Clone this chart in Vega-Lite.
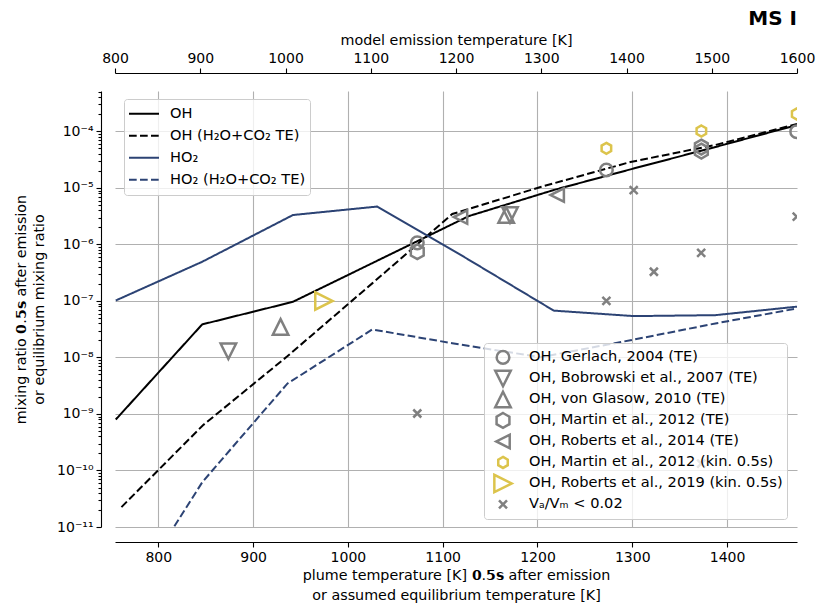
{
  "$schema": "https://vega.github.io/schema/vega-lite/v6.json",
  "width": 682,
  "height": 436,
  "autosize": {"type": "none"},
  "padding": {"left": 115, "top": 91, "right": 21, "bottom": 81},
  "background": "white",
  "title": {"text": "MS I", "anchor": "end", "frame": "group", "fontSize": 20, "fontWeight": "bold", "font": "DejaVu Sans", "color": "black", "offset": 4},
  "datasets": {
    "lines": [
      {"series": "OH", "T": 755.1, "v": 7.98e-10},
      {"series": "OH", "T": 846.3, "v": 3.85e-8},
      {"series": "OH", "T": 942.0, "v": 9.66e-8},
      {"series": "OH", "T": 1031.0, "v": 5.16e-7},
      {"series": "OH", "T": 1127.6, "v": 3.18e-6},
      {"series": "OH", "T": 1217.2, "v": 9.2e-6},
      {"series": "OH", "T": 1301.5, "v": 2.21e-5},
      {"series": "OH", "T": 1387.7, "v": 5.31e-5},
      {"series": "OH", "T": 1473.8, "v": 1.30e-4},
      {"series": "OH (H₂O+CO₂ TE)", "T": 761.1, "v": 2.25e-11},
      {"series": "OH (H₂O+CO₂ TE)", "T": 847.1, "v": 6.32e-10},
      {"series": "OH (H₂O+CO₂ TE)", "T": 936.1, "v": 1.05e-8},
      {"series": "OH (H₂O+CO₂ TE)", "T": 1026.0, "v": 2.07e-7},
      {"series": "OH (H₂O+CO₂ TE)", "T": 1110.1, "v": 3.46e-6},
      {"series": "OH (H₂O+CO₂ TE)", "T": 1203.2, "v": 1.04e-5},
      {"series": "OH (H₂O+CO₂ TE)", "T": 1298.1, "v": 2.88e-5},
      {"series": "OH (H₂O+CO₂ TE)", "T": 1387.7, "v": 5.77e-5},
      {"series": "OH (H₂O+CO₂ TE)", "T": 1473.8, "v": 1.36e-4},
      {"series": "HO₂", "T": 755.1, "v": 1.02e-7},
      {"series": "HO₂", "T": 846.3, "v": 4.94e-7},
      {"series": "HO₂", "T": 942.0, "v": 3.32e-6},
      {"series": "HO₂", "T": 1031.0, "v": 4.69e-6},
      {"series": "HO₂", "T": 1124.1, "v": 5.81e-7},
      {"series": "HO₂", "T": 1217.2, "v": 6.75e-8},
      {"series": "HO₂", "T": 1301.5, "v": 5.40e-8},
      {"series": "HO₂", "T": 1387.7, "v": 5.61e-8},
      {"series": "HO₂", "T": 1473.8, "v": 7.94e-8},
      {"series": "HO₂ (H₂O+CO₂ TE)", "T": 761.1, "v": 3.4e-13},
      {"series": "HO₂ (H₂O+CO₂ TE)", "T": 846.5, "v": 6.25e-11},
      {"series": "HO₂ (H₂O+CO₂ TE)", "T": 936.1, "v": 3.44e-9},
      {"series": "HO₂ (H₂O+CO₂ TE)", "T": 1025.7, "v": 3.13e-8},
      {"series": "HO₂ (H₂O+CO₂ TE)", "T": 1110.1, "v": 1.79e-8},
      {"series": "HO₂ (H₂O+CO₂ TE)", "T": 1203.2, "v": 1.01e-8},
      {"series": "HO₂ (H₂O+CO₂ TE)", "T": 1298.1, "v": 2.02e-8},
      {"series": "HO₂ (H₂O+CO₂ TE)", "T": 1387.7, "v": 4.0e-8},
      {"series": "HO₂ (H₂O+CO₂ TE)", "T": 1473.8, "v": 7.38e-8}
    ],
    "pts": [
      {"source": "OH, Gerlach, 2004 (TE)", "T": 1073.2, "v": 1.07e-6},
      {"source": "OH, Gerlach, 2004 (TE)", "T": 1272.7, "v": 2.08e-5},
      {"source": "OH, Gerlach, 2004 (TE)", "T": 1473.5, "v": 9.9e-5},
      {"source": "OH, Bobrowski et al., 2007 (TE)", "T": 873.9, "v": 1.29e-8},
      {"source": "OH, Bobrowski et al., 2007 (TE)", "T": 1171.0, "v": 3.32e-6},
      {"source": "OH, von Glasow, 2010 (TE)", "T": 929.0, "v": 3.48e-8},
      {"source": "OH, von Glasow, 2010 (TE)", "T": 1167.0, "v": 3.32e-6},
      {"source": "OH, Martin et al., 2012 (TE)", "T": 1073.2, "v": 7.43e-7},
      {"source": "OH, Martin et al., 2012 (TE)", "T": 1372.9, "v": 4.5e-5},
      {"source": "OH, Martin et al., 2012 (TE)", "T": 1372.9, "v": 5.3e-5},
      {"source": "OH, Roberts et al., 2014 (TE)", "T": 1118.8, "v": 3.05e-6},
      {"source": "OH, Roberts et al., 2014 (TE)", "T": 1220.8, "v": 7.5e-6},
      {"source": "OH, Martin et al., 2012 (kin. 0.5s)", "T": 1272.7, "v": 5.03e-5},
      {"source": "OH, Martin et al., 2012 (kin. 0.5s)", "T": 1372.9, "v": 1.02e-4},
      {"source": "OH, Martin et al., 2012 (kin. 0.5s)", "T": 1473.5, "v": 2.04e-4},
      {"source": "OH, Roberts et al., 2019 (kin. 0.5s)", "T": 974.7, "v": 1.0e-7},
      {"source": "Vₐ/Vₘ < 0.02", "T": 1073.2, "v": 1.02e-9},
      {"source": "Vₐ/Vₘ < 0.02", "T": 1272.7, "v": 1.0e-7},
      {"source": "Vₐ/Vₘ < 0.02", "T": 1301.5, "v": 9.2e-6},
      {"source": "Vₐ/Vₘ < 0.02", "T": 1322.8, "v": 3.29e-7},
      {"source": "Vₐ/Vₘ < 0.02", "T": 1372.7, "v": 7.13e-7},
      {"source": "Vₐ/Vₘ < 0.02", "T": 1372.7, "v": 1.32e-10},
      {"source": "Vₐ/Vₘ < 0.02", "T": 1473.5, "v": 3.1e-6}
    ]
  },
  "layer": [
    {
      "layer": [
        {
          "data": {"name": "lines"},
          "mark": {"type": "line", "clip": true, "strokeWidth": 2},
          "encoding": {
            "x": {
              "field": "T", "type": "quantitative",
              "scale": {"domain": [754.3, 1473.8], "nice": false, "zero": false},
              "axis": {
                "orient": "bottom", "offset": 15,
                "values": [800, 900, 1000, 1100, 1200, 1300, 1400],
                "format": "d",
                "grid": true,
                "title": ["plume temperature [K] 𝟬.𝟱𝘀 after emission", "or assumed equilibrium temperature [K]"],
                "titlePadding": 4, "titleLineHeight": 20
              }
            },
            "y": {
              "field": "v", "type": "quantitative",
              "scale": {"type": "log", "domain": [1e-11, 5.2e-4], "nice": false},
              "axis": {
                "offset": 14,
                "values": [1e-11, 2e-11, 3e-11, 4e-11, 5e-11, 6e-11, 7e-11, 8e-11, 9e-11,
                           1e-10, 2e-10, 3e-10, 4e-10, 5e-10, 6e-10, 7e-10, 8e-10, 9e-10,
                           1e-9, 2e-9, 3e-9, 4e-9, 5e-9, 6e-9, 7e-9, 8e-9, 9e-9,
                           1e-8, 2e-8, 3e-8, 4e-8, 5e-8, 6e-8, 7e-8, 8e-8, 9e-8,
                           1e-7, 2e-7, 3e-7, 4e-7, 5e-7, 6e-7, 7e-7, 8e-7, 9e-7,
                           1e-6, 2e-6, 3e-6, 4e-6, 5e-6, 6e-6, 7e-6, 8e-6, 9e-6,
                           1e-5, 2e-5, 3e-5, 4e-5, 5e-5, 6e-5, 7e-5, 8e-5, 9e-5,
                           1e-4, 2e-4, 3e-4, 4e-4, 5e-4],
                "labelExpr": "abs(log(datum.value)/LN10 - round(log(datum.value)/LN10)) > 0.001 ? '' : '10' + ['⁻¹¹','⁻¹⁰','⁻⁹','⁻⁸','⁻⁷','⁻⁶','⁻⁵','⁻⁴'][round(log(datum.value)/LN10) + 11]",
                "labelOverlap": false,
                "labelFlush": false,
                "tickSize": {"condition": {"test": "abs(log(datum.value)/LN10 - round(log(datum.value)/LN10)) < 0.001", "value": 5}, "value": 3},
                "grid": true,
                "gridOpacity": {"condition": {"test": "abs(log(datum.value)/LN10 - round(log(datum.value)/LN10)) < 0.001", "value": 1}, "value": 0},
                "title": ["mixing ratio 𝟬.𝟱𝘀 after emission", "or equilibrium mixing ratio"],
                "titlePadding": 10, "titleLineHeight": 18
              }
            },
            "color": {
              "field": "series", "type": "nominal",
              "scale": {"domain": ["OH", "OH (H₂O+CO₂ TE)", "HO₂", "HO₂ (H₂O+CO₂ TE)"], "range": ["#000000", "#000000", "#2c4374", "#2c4374"]},
              "legend": {"title": null, "orient": "none", "legendX": 9, "legendY": 8, "symbolType": "stroke", "symbolSize": 900, "symbolStrokeWidth": 2, "labelFontSize": 14.6, "padding": 4, "rowPadding": 0, "clipHeight": 21.7, "labelOffset": 10, "fillColor": "rgba(255,255,255,0.8)", "strokeColor": "#cccccc", "cornerRadius": 3}
            },
            "strokeDash": {
              "field": "series", "type": "nominal",
              "scale": {"domain": ["OH", "OH (H₂O+CO₂ TE)", "HO₂", "HO₂ (H₂O+CO₂ TE)"], "range": [[1, 0], [7.7, 3.3], [1, 0], [7.7, 3.3]]},
              "legend": {"title": null, "orient": "none", "legendX": 9, "legendY": 8, "symbolType": "stroke", "symbolSize": 900, "symbolStrokeWidth": 2, "labelFontSize": 14.6, "padding": 4, "rowPadding": 0, "clipHeight": 21.7, "labelOffset": 10, "fillColor": "rgba(255,255,255,0.8)", "strokeColor": "#cccccc", "cornerRadius": 3}
            }
          }
        },
        {
          "data": {"name": "pts"},
          "mark": {"type": "point", "filled": false, "clip": true, "strokeWidth": 2.5, "opacity": 1},
          "encoding": {
            "x": {"field": "T", "type": "quantitative", "scale": {"domain": [754.3, 1473.8], "nice": false, "zero": false}},
            "y": {"field": "v", "type": "quantitative", "scale": {"type": "log", "domain": [1e-11, 5.2e-4], "nice": false}},
            "stroke": {
              "field": "source", "type": "nominal",
              "scale": {
                "domain": ["OH, Gerlach, 2004 (TE)", "OH, Bobrowski et al., 2007 (TE)", "OH, von Glasow, 2010 (TE)", "OH, Martin et al., 2012 (TE)", "OH, Roberts et al., 2014 (TE)", "OH, Martin et al., 2012 (kin. 0.5s)", "OH, Roberts et al., 2019 (kin. 0.5s)", "Vₐ/Vₘ < 0.02"],
                "range": ["#808080", "#808080", "#808080", "#808080", "#808080", "#dcc44c", "#dcc44c", "#808080"]
              },
              "legend": {"title": null, "orient": "none", "legendX": 369, "legendY": 252, "labelFontSize": 14.6, "padding": 4, "rowPadding": 0, "clipHeight": 20.9, "symbolOffset": 5, "labelOffset": 16, "symbolStrokeWidth": 2.5, "symbolFillColor": "transparent", "fillColor": "rgba(255,255,255,0.8)", "strokeColor": "#cccccc", "cornerRadius": 3}
            },
            "shape": {
              "field": "source", "type": "nominal",
              "scale": {
                "domain": ["OH, Gerlach, 2004 (TE)", "OH, Bobrowski et al., 2007 (TE)", "OH, von Glasow, 2010 (TE)", "OH, Martin et al., 2012 (TE)", "OH, Roberts et al., 2014 (TE)", "OH, Martin et al., 2012 (kin. 0.5s)", "OH, Roberts et al., 2019 (kin. 0.5s)", "Vₐ/Vₘ < 0.02"],
                "range": ["circle", "M-1,-1L1,-1L0,1Z", "M0,-1L1,1L-1,1Z", "M0,-1L0.866,-0.5L0.866,0.5L0,1L-0.866,0.5L-0.866,-0.5Z", "M1,-1L1,1L-1,0Z", "M0,-1L0.866,-0.5L0.866,0.5L0,1L-0.866,0.5L-0.866,-0.5Z", "M-1,-1L-1,1L1,0Z", "M-1,-1L1,1M-1,1L1,-1"]
              },
              "legend": {"title": null, "orient": "none", "legendX": 369, "legendY": 252, "labelFontSize": 14.6, "padding": 4, "rowPadding": 0, "clipHeight": 20.9, "symbolOffset": 5, "labelOffset": 16, "symbolStrokeWidth": 2.5, "symbolFillColor": "transparent", "fillColor": "rgba(255,255,255,0.8)", "strokeColor": "#cccccc", "cornerRadius": 3}
            },
            "size": {
              "field": "source", "type": "ordinal",
              "scale": {
                "type": "ordinal",
                "domain": ["OH, Gerlach, 2004 (TE)", "OH, Bobrowski et al., 2007 (TE)", "OH, von Glasow, 2010 (TE)", "OH, Martin et al., 2012 (TE)", "OH, Roberts et al., 2014 (TE)", "OH, Martin et al., 2012 (kin. 0.5s)", "OH, Roberts et al., 2019 (kin. 0.5s)", "Vₐ/Vₘ < 0.02"],
                "range": [160, 240, 240, 220, 180, 121, 300, 64]
              },
              "legend": {"title": null, "orient": "none", "legendX": 369, "legendY": 252, "labelFontSize": 14.6, "padding": 4, "rowPadding": 0, "clipHeight": 20.9, "symbolOffset": 5, "labelOffset": 16, "symbolStrokeWidth": 2.5, "symbolFillColor": "transparent", "fillColor": "rgba(255,255,255,0.8)", "strokeColor": "#cccccc", "cornerRadius": 3}
            }
          }
        }
      ]
    },
    {
      "data": {"values": [{"Tm": 800}, {"Tm": 1600}]},
      "mark": {"type": "point", "opacity": 0},
      "encoding": {
        "x": {
          "field": "Tm", "type": "quantitative",
          "scale": {"domain": [800, 1600], "nice": false, "zero": false},
          "axis": {"orient": "top", "offset": 18, "grid": false, "format": "d", "values": [800, 900, 1000, 1100, 1200, 1300, 1400, 1500, 1600], "title": "model emission temperature [K]", "titlePadding": 4, "labelFlush": false}
        }
      }
    }
  ],
  "resolve": {"scale": {"x": "independent"}},
  "config": {
    "font": "DejaVu Sans",
    "view": {"stroke": null},
    "axis": {
      "domainColor": "black", "domainWidth": 1.1, "tickColor": "black", "tickWidth": 1.1, "tickSize": 5,
      "labelColor": "black", "labelFontSize": 14, "labelFont": "DejaVu Sans", "labelPadding": 3,
      "titleFontSize": 14.3, "titleFontWeight": "normal", "titleColor": "black", "titleFont": "DejaVu Sans",
      "gridColor": "#b0b0b0", "gridWidth": 1.1
    },
    "legend": {"labelFont": "DejaVu Sans", "labelFontSize": 14.6, "labelColor": "black", "labelLimit": 400}
  }
}
